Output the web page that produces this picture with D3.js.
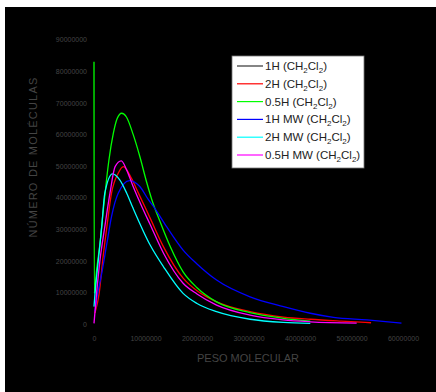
<!DOCTYPE html>
<html>
<head>
<meta charset="utf-8">
<script src="https://cdn.jsdelivr.net/npm/d3@7"></script>
<style>
  html, body { margin: 0; padding: 0; background: #ffffff; }
  svg { display: block; }
</style>
</head>
<body>
<svg id="chart" width="436" height="392"></svg>
<script>
// Values in millions (x: peso molecular, y: número de moléculas)
const xTicks = [0, 10, 20, 30, 40, 50, 60];
const xTickLabels = ["0", "10000000", "20000000", "30000000", "40000000", "50000000", "60000000"];
const yTicks = [0, 10, 20, 30, 40, 50, 60, 70, 80, 90];
const yTickLabels = ["0", "10000000", "20000000", "30000000", "40000000", "50000000", "60000000", "70000000", "80000000", "90000000"];

const s1H = [[0.2,3],[1,9],[2,20],[3,32],[4,41],[5.5,47],[7,46],[9,40],[11,33],[14,23],[17.3,15],[23.8,7.5],[30.3,4],[36.8,2],[45,1],[55,0.4]];
const s2H = [[0.2,3.5],[1.0,9.7],[1.7,20.3],[2.5,30.8],[3.4,41.4],[4.7,47.7],[5.7,49.8],[7.3,46],[8.6,41.5],[9.9,37],[10.9,33.5],[13.5,24.4],[17.3,14.5],[20,10.5],[23.8,7.0],[30.3,3.9],[36.8,2.2],[42,1.5],[48,0.9],[53.8,0.4]];
const s05H = [[0,83],[0.05,9.7],[0.5,17],[1.17,25.6],[1.8,36],[2.5,46.6],[2.9,51.9],[3.75,60.3],[4.5,65],[5.37,66.7],[6.3,65.5],[7.6,60],[8.9,53],[10.2,45],[11.2,39.5],[12.8,32.5],[14.8,24.5],[17.3,16.5],[20,11.5],[23.8,7.0],[30.3,3.6],[36.8,1.8],[42,0.9]];
const s1HMW = [[0.2,4],[0.5,7.6],[1.5,16],[2.5,25.5],[3.4,34],[4.7,41.4],[6.9,45.4],[8.9,43.5],[10.5,39.5],[11.8,36.6],[14.1,30.8],[17.3,23.4],[20,19],[23.8,13.9],[30.3,8.6],[36.8,5.5],[42,3.4],[46.5,2.1],[53,1.3],[59.7,0.3]];
const s2HMW = [[0,5.5],[0.2,9.7],[0.84,20.3],[1.5,30.8],[2.1,41.4],[3.6,47.5],[5.0,45.6],[6.35,41.4],[7.6,36.6],[10.9,25],[13.5,18.1],[17.3,9.7],[20,6.5],[23.8,3.9],[30.3,1.5],[36.8,0.5],[42,0.2]];
const s05HMW = [[0,0.2],[0.5,9.7],[1.17,20.3],[2.1,30.8],[3.1,41.4],[4.1,49.8],[5.3,51.6],[6.35,48.7],[7.6,43.5],[9.3,37.1],[10.9,31.5],[13.5,22.4],[17.3,12.9],[20,9.5],[23.8,6.0],[30.3,2.8],[36.7,1.3],[42,0.7],[51,0.3]];

const seriesNames = ["1H", "2H", "0.5H", "1H MW", "2H MW", "0.5H MW"];
const seriesData = [s1H, s2H, s05H, s1HMW, s2HMW, s05HMW];
const seriesColors = ["#000000", "#ff0000", "#00ff00", "#0000ff", "#00ffff", "#ff00ff"];

const svg = d3.select("#chart");
svg.append("rect").attr("x", 5).attr("y", 7).attr("width", 431).attr("height", 385).attr("fill", "#000");

const x = d3.scaleLinear().domain([0, 60]).range([94, 403]);
const y = d3.scaleLinear().domain([0, 90]).range([324, 39.6]);

const tickColor = "#444444";
const xAxis = d3.axisBottom(x).tickValues(xTicks).tickFormat((d, i) => xTickLabels[i]).tickSize(0).tickPadding(12);
const gx = svg.append("g").attr("transform", "translate(0,324)").call(xAxis);
gx.select(".domain").attr("stroke", "#000");
gx.selectAll("text").attr("fill", tickColor).style("font-family", "Arial, 'Liberation Sans', sans-serif").style("font-size", "7px");

const yAxis = d3.axisLeft(y).tickValues(yTicks).tickFormat((d, i) => yTickLabels[i]).tickSize(0).tickPadding(7);
const gy = svg.append("g").attr("transform", "translate(94,0)").call(yAxis);
gy.select(".domain").attr("stroke", "#000");
gy.selectAll("text").attr("fill", tickColor).style("font-family", "Arial, 'Liberation Sans', sans-serif").style("font-size", "7px");

const line = d3.line().x(d => x(d[0])).y(d => y(d[1])).curve(d3.curveMonotoneX);
seriesData.forEach((s, i) => {
  svg.append("path").datum(s).attr("d", line).attr("fill", "none")
    .attr("stroke", seriesColors[i]).attr("stroke-width", 1.3);
});

svg.append("text").attr("x", 248).attr("y", 362).attr("text-anchor", "middle")
  .attr("fill", tickColor).style("font-family", "Arial, 'Liberation Sans', sans-serif").style("font-size", "11px")
  .text("PESO MOLECULAR");
svg.append("text").attr("transform", "translate(37,157) rotate(-90)").attr("text-anchor", "middle")
  .attr("fill", tickColor).style("font-family", "Arial, 'Liberation Sans', sans-serif").style("font-size", "11px")
  .style("letter-spacing", "1.2px")
  .text("NÚMERO DE MOLÉCULAS");

// Legend
const lg = svg.append("g");
lg.append("rect").attr("x", 232).attr("y", 56).attr("width", 132).attr("height", 112)
  .attr("fill", "#fff").attr("stroke", "#777").attr("stroke-width", 0.8);
seriesNames.forEach((n, i) => {
  const cy = 66 + i * 17.8;
  lg.append("line").attr("x1", 237).attr("x2", 263).attr("y1", cy).attr("y2", cy)
    .attr("stroke", seriesColors[i] === "#000000" ? "#333" : seriesColors[i]).attr("stroke-width", 1.2);
  const t = lg.append("text").attr("x", 265).attr("y", cy + 4)
    .attr("fill", "#222").style("font-family", "Arial, 'Liberation Sans', sans-serif").style("font-size", "11.5px");
  t.append("tspan").text(n + " (CH");
  t.append("tspan").attr("dy", 3).style("font-size", "8px").text("2");
  t.append("tspan").attr("dy", -3).text("Cl");
  t.append("tspan").attr("dy", 3).style("font-size", "8px").text("2");
  t.append("tspan").attr("dy", -3).text(")");
});
</script>
</body>
</html>
